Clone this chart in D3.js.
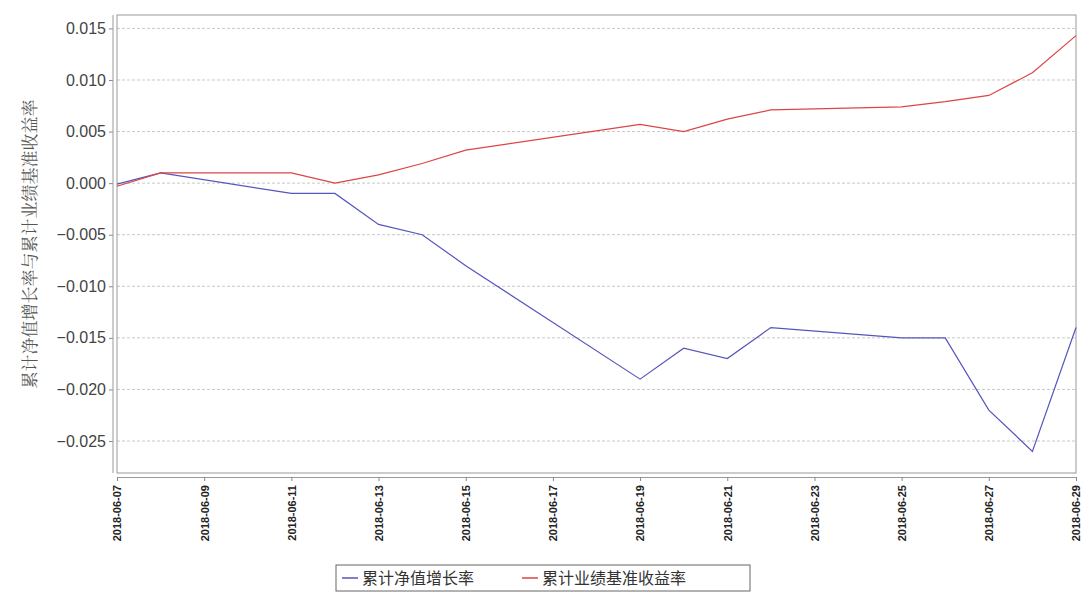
<!DOCTYPE html>
<html><head><meta charset="utf-8">
<script src="https://cdn.jsdelivr.net/npm/d3@7"></script>
<style>body{margin:0;background:#fff}</style>
</head><body><div id="chart"></div>
<script>
// chart data
var dates = ["2018-06-07","2018-06-08","2018-06-11","2018-06-12","2018-06-13","2018-06-14","2018-06-15","2018-06-19","2018-06-20","2018-06-21","2018-06-22","2018-06-25","2018-06-26","2018-06-27","2018-06-28","2018-06-29"];
var navGrowth = [-0.0001,0.001,-0.001,-0.001,-0.004,-0.005,-0.008,-0.019,-0.016,-0.017,-0.014,-0.015,-0.015,-0.022,-0.026,-0.014];
var benchmark = [-0.0003,0.001,0.001,0.0,0.0008,0.0019,0.0032,0.0057,0.005,0.0062,0.0071,0.0074,0.0079,0.0085,0.0107,0.0143];
var yTicks = [0.015,0.010,0.005,0.000,-0.005,-0.010,-0.015,-0.020,-0.025];
var xTickLabels = ["2018-06-07","2018-06-09","2018-06-11","2018-06-13","2018-06-15","2018-06-17","2018-06-19","2018-06-21","2018-06-23","2018-06-25","2018-06-27","2018-06-29"];
var seriesNames = ["累计净值增长率","累计业绩基准收益率"];
var seriesColors = ["#5555bb","#dd4444"];

var width = 1082, height = 597,
    padLeft = 117, padRight = 1076, padTop = 15, padBottom = 473;
var parse = d3.timeParse("%Y-%m-%d");

var svg = d3.select("#chart").append("svg").attr("width", width).attr("height", height);

var x = d3.scaleTime().domain([parse(dates[0]), parse(dates[dates.length - 1])]).range([padLeft, padRight]);
var y = d3.scaleLinear().domain([-0.0281, 0.0163]).range([padBottom, padTop]);

// grid
svg.selectAll(".grid").data(yTicks).enter().append("line")
    .attr("x1", padLeft).attr("x2", padRight)
    .attr("y1", d => y(d)).attr("y2", d => y(d))
    .style("stroke", "#c8c8c8").style("stroke-dasharray", "3,2");

svg.append("rect").attr("x", padLeft).attr("y", padTop).attr("width", padRight - padLeft).attr("height", padBottom - padTop)
    .style("fill", "none").style("stroke", "#999");

// y axis
var yAxis = svg.append("g").attr("transform", "translate(" + (padLeft - 4) + ",0)")
    .call(d3.axisLeft(y).tickValues(yTicks).tickFormat(d3.format(".3f")).tickSize(4));
yAxis.select(".domain").remove();
yAxis.selectAll("line").style("stroke", "#888");
yAxis.selectAll("text").style("font-family", "Arial, 'Liberation Sans'").style("font-size", "16px").style("fill", "#444");
svg.append("line").attr("x1", padLeft - 4).attr("x2", padLeft - 4).attr("y1", padTop).attr("y2", padBottom).style("stroke", "#999");

// x axis
var xAxis = svg.append("g").attr("transform", "translate(0," + (padBottom + 4) + ")")
    .call(d3.axisBottom(x).tickValues(xTickLabels.map(parse)).tickFormat(d3.timeFormat("%Y-%m-%d")).tickSize(4));
xAxis.select(".domain").style("stroke", "#999");
xAxis.selectAll("line").style("stroke", "#888");
xAxis.selectAll("text")
    .attr("transform", "rotate(-90)").attr("x", -8).attr("y", 0).attr("dy", "0.35em")
    .style("text-anchor", "end")
    .style("font-family", "Arial, 'Liberation Sans'").style("font-size", "11px").style("font-weight", "bold").style("fill", "#222");

// y title
svg.append("text").attr("transform", "translate(30," + ((padTop + padBottom) / 2) + ") rotate(-90)")
    .attr("text-anchor", "middle").attr("dy", "0.35em")
    .style("font-family", "'Noto Serif CJK SC', 'Noto Sans CJK SC'").style("font-size", "17px").style("fill", "#555")
    .text("累计净值增长率与累计业绩基准收益率");

// lines
var line = d3.line().x((d, i) => x(parse(dates[i]))).y(d => y(d));
[navGrowth, benchmark].forEach(function (s, i) {
    svg.append("path").datum(s).attr("d", line)
        .style("fill", "none").style("stroke", seriesColors[i]).style("stroke-width", 1.2);
});

// legend
var lg = svg.append("g");
lg.append("rect").attr("x", 336).attr("y", 565).attr("width", 414).attr("height", 26)
    .style("fill", "#fff").style("stroke", "#666");
var lx = [342, 522];
seriesNames.forEach(function (n, i) {
    lg.append("line").attr("x1", lx[i]).attr("x2", lx[i] + 16).attr("y1", 578).attr("y2", 578)
        .style("stroke", seriesColors[i]).style("stroke-width", 1.5);
    lg.append("text").attr("x", lx[i] + 20).attr("y", 578).attr("dy", "0.35em")
        .style("font-family", "'Noto Sans CJK SC'").style("font-size", "16px").style("fill", "#333").text(n);
});
</script>
</body></html>
